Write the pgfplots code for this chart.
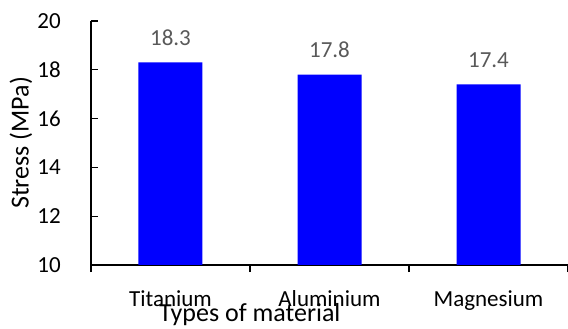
\documentclass[border=0pt]{standalone}
\usepackage{pgfplots}
\pgfplotsset{compat=1.18}
\usepackage{fontspec}
\setmainfont{Carlito}
\definecolor{valgray}{HTML}{595959}
\begin{document}
\begin{tikzpicture}
\begin{axis}[
  name=ax,
  scale only axis,
  width=477pt, height=244pt,
  xmin=-0.5, xmax=2.5,
  ymin=10, ymax=20,
  ytick={10,12,14,16,18,20},
  xtick={0,1,2},
  xticklabels={Titanium,Aluminium,Magnesium},
  minor xtick={-0.5,0.5,1.5,2.5},
  axis x line=bottom, axis y line=left,
  axis line style={-, line width=1.2pt, black},
  tick align=outside,
  major tick length=7pt, minor tick length=7pt,
  major x tick style={draw=none},
  minor x tick style={line width=1.2pt, black},
  y tick style={line width=1.2pt, black, xshift=7pt},
  /pgf/number format/assume math mode=true,
  tick label style={font=\fontsize{23}{27}\selectfont, black},
  yticklabel style={anchor=east, inner sep=0pt, xshift=-23pt},
  xticklabel style={anchor=base, inner sep=0pt, yshift=-34pt},
  xlabel={Types of material},
  ylabel={Stress (MPa)},
  label style={font=\fontsize{26}{30}\selectfont},
  xlabel style={at={(axis description cs:0.333,0)}, anchor=base, yshift=-57pt, inner sep=0pt},
  ylabel style={at={(axis description cs:-0.1468,0.5)}, anchor=center, inner sep=0pt},
  clip=false,
  nodes near coords,
  nodes near coords style={font=\fontsize{23}{27}\selectfont, text=valgray, anchor=base, yshift=17pt, inner sep=0pt,
    /pgf/number format/.cd, fixed, fixed zerofill, precision=1},
]
\addplot[ybar, bar width=64pt, fill=blue, draw=none] coordinates {(0,18.3) (1,17.8) (2,17.4)};
\end{axis}
\pgfresetboundingbox
\path[use as bounding box] ([xshift=-91pt,yshift=-64pt]ax.south west) rectangle ++(568pt,329pt);
\end{tikzpicture}
\end{document}
